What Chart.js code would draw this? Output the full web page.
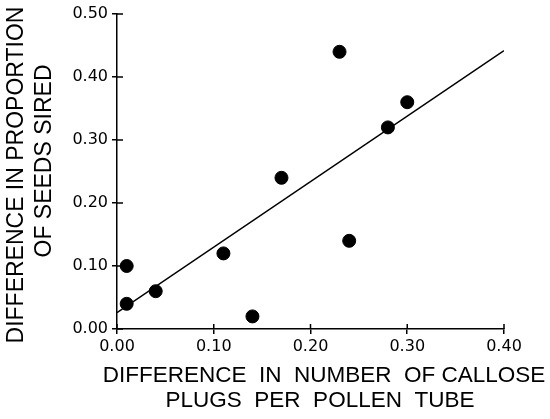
<!DOCTYPE html>
<html lang="en">

<head>
    <meta charset="UTF-8">
    <title>Callose plugs vs seeds sired</title>
    <script src="https://cdn.jsdelivr.net/npm/chart.js"></script>
    <style>
        html, body { margin: 0; padding: 0; background: #fff; }
        #wrap { width: 550px; height: 419px; position: relative; }
    </style>
</head>

<body>
    <div id="wrap">
        <canvas id="chart"></canvas>
    </div>

    <script>
        // data
        const plugsDiff = [0.01, 0.01, 0.04, 0.11, 0.14, 0.17, 0.23, 0.24, 0.28, 0.30];
        const seedsDiff = [0.10, 0.04, 0.06, 0.12, 0.02, 0.24, 0.44, 0.14, 0.32, 0.36];
        const fitX = [0.00, 0.40];
        const fitY = [0.026, 0.442];
        const xTicks = [0.00, 0.10, 0.20, 0.30, 0.40];
        const yTicks = [0.00, 0.10, 0.20, 0.30, 0.40, 0.50];

        const xTitle = ["DIFFERENCE  IN  NUMBER  OF CALLOSE", "PLUGS  PER  POLLEN  TUBE"];
        const yTitle = ["DIFFERENCE IN PROPORTION", "OF SEEDS SIRED"];

        const FONT = "'Liberation Sans', Arial, sans-serif";
        const TICK_FONT = "'DejaVu Sans', sans-serif";

        // tick marks that also cross into the plot area, and the axis titles
        const extras = {
            id: "extras",
            afterDraw(chart) {
                const ctx = chart.ctx;
                const xs = chart.scales.x, ys = chart.scales.y;
                const area = chart.chartArea;
                ctx.save();
                ctx.strokeStyle = "#000";
                ctx.lineWidth = 1.5;
                ctx.beginPath();
                xs.ticks.forEach(t => {
                    const px = xs.getPixelForValue(t.value);
                    ctx.moveTo(px, area.bottom);
                    ctx.lineTo(px, area.bottom - 5);
                });
                ys.ticks.forEach(t => {
                    const py = ys.getPixelForValue(t.value);
                    ctx.moveTo(area.left, py);
                    ctx.lineTo(area.left + 6, py);
                });
                ctx.stroke();

                ctx.fillStyle = "#000";
                ctx.textAlign = "center";
                ctx.textBaseline = "middle";
                ctx.font = "22.5px " + FONT;
                ctx.fillText(xTitle[0], 324, 376);
                ctx.fillText(xTitle[1], 320, 401);

                ctx.font = "23px " + FONT;
                ctx.save();
                ctx.translate(17, 175);
                ctx.rotate(-Math.PI / 2);
                ctx.fillText(yTitle[0], 0, 0);
                ctx.restore();
                ctx.save();
                ctx.translate(45, 161);
                ctx.rotate(-Math.PI / 2);
                ctx.fillText(yTitle[1], 0, 0);
                ctx.restore();
                ctx.restore();
            }
        };

        const ctx = document.getElementById("chart").getContext("2d");
        new Chart(ctx, {
            type: "scatter",
            data: {
                datasets: [
                    {
                        label: "pairs",
                        data: plugsDiff.map((x, i) => ({ x: x, y: seedsDiff[i] })),
                        backgroundColor: "#000",
                        borderColor: "#000",
                        pointRadius: 6.5,
                        pointHoverRadius: 6.5
                    },
                    {
                        label: "fit",
                        type: "line",
                        data: fitX.map((x, i) => ({ x: x, y: fitY[i] })),
                        borderColor: "#000",
                        borderWidth: 1.5,
                        pointRadius: 0,
                        fill: false
                    }
                ]
            },
            options: {
                responsive: true,
                maintainAspectRatio: false,
                animation: false,
                events: [],
                layout: {
                    padding: { left: 0, right: 46, top: 14, bottom: 0 }
                },
                plugins: {
                    legend: { display: false },
                    tooltip: { enabled: false }
                },
                scales: {
                    x: {
                        type: "linear",
                        min: 0,
                        max: 0.4,
                        afterFit: s => { s.height = 90; },
                        afterBuildTicks: s => { s.ticks = xTicks.map(v => ({ value: v })); },
                        border: { display: true, color: "#000", width: 1.5 },
                        grid: { drawOnChartArea: false, color: "#000", lineWidth: 1.5, tickLength: 5 },
                        ticks: {
                            color: "#000",
                            padding: 3,
                            maxRotation: 0,
                            font: { family: TICK_FONT, size: 16 },
                            callback: v => v.toFixed(2)
                        }
                    },
                    y: {
                        type: "linear",
                        min: 0,
                        max: 0.5,
                        afterFit: s => { s.width = 117; },
                        afterBuildTicks: s => { s.ticks = yTicks.map(v => ({ value: v })); },
                        border: { display: true, color: "#000", width: 1.5 },
                        grid: { drawOnChartArea: false, color: "#000", lineWidth: 1.5, tickLength: 5 },
                        ticks: {
                            color: "#000",
                            padding: 4,
                            font: { family: TICK_FONT, size: 16 },
                            callback: v => v.toFixed(2)
                        }
                    }
                }
            },
            plugins: [extras]
        });
    </script>
</body>

</html>
